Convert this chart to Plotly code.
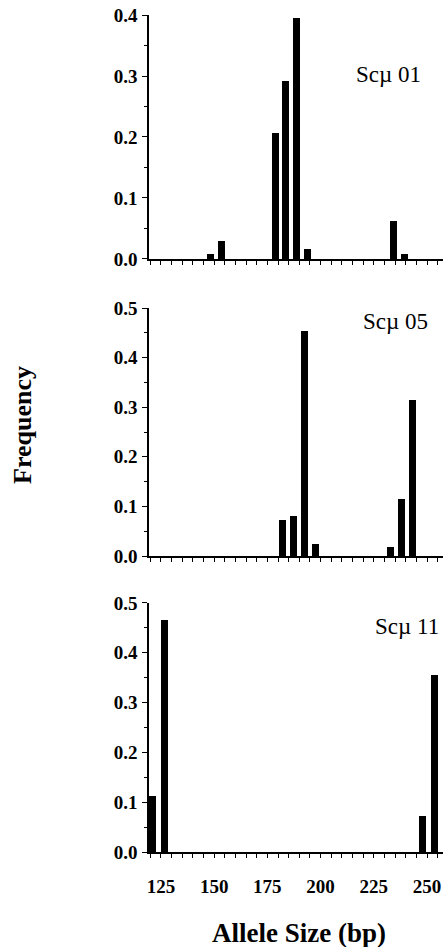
import plotly.graph_objects as go

# Data
sizes_01 = [148.5, 153.5, 178.6, 183.7, 188.8, 193.9, 234.2, 239.3]
freq_01 = [0.008, 0.030, 0.207, 0.291, 0.395, 0.016, 0.063, 0.008]

sizes_05 = [182.2, 187.4, 192.5, 197.7, 233.0, 238.1, 243.3]
freq_05 = [0.072, 0.081, 0.454, 0.025, 0.018, 0.114, 0.315]

sizes_11 = [121.1, 126.9, 248.0, 253.3]
freq_11 = [0.113, 0.465, 0.073, 0.356]

panel_names = ["Scµ 01", "Scµ 05", "Scµ 11"]
x_tick_vals = [125, 150, 175, 200, 225, 250]
x_tick_text = ["125", "150", "175", "200", "225", "250"]

W, H = 443, 947
fig = go.Figure()

series = [(sizes_01, freq_01), (sizes_05, freq_05), (sizes_11, freq_11)]
for i, (xs, ys) in enumerate(series):
    sfx = "" if i == 0 else str(i + 1)
    fig.add_trace(go.Bar(x=xs, y=ys, width=3.3, marker=dict(color="black", line=dict(width=0)),
                         xaxis="x" + sfx, yaxis="y" + sfx, showlegend=False))

tickfont = dict(family="Liberation Serif", size=19, color="black", weight="bold")
serif_b = "Liberation Serif"

def xaxis(show_labels, anchor):
    return dict(range=[119.4, 257.5], showline=True, linecolor="black", linewidth=1.5,
                ticks="outside", ticklen=4, tickwidth=1.2, tickcolor="black",
                tickvals=x_tick_vals, ticktext=x_tick_text if show_labels else None,
                showticklabels=show_labels, tickfont=tickfont, ticklabelstandoff=12,
                minor=dict(dtick=5, tick0=0, ticks="outside", ticklen=4, tickwidth=1.2, tickcolor="black"),
                showgrid=False, zeroline=False, anchor=anchor, fixedrange=True)

def yaxis(rng, dom, anchor):
    return dict(range=rng, domain=dom, showline=True, linecolor="black", linewidth=1.5,
                ticks="outside", ticklen=5, tickwidth=1.2, tickcolor="black",
                tick0=0, dtick=0.1, tickformat=".1f", tickfont=tickfont,
                minor=dict(dtick=0.05, ticks="outside", ticklen=3, tickwidth=1.2, tickcolor="black"),
                showgrid=False, zeroline=False, anchor=anchor, ticklabelstandoff=1, fixedrange=True)

fig.update_layout(
    width=W, height=H,
    margin=dict(l=149, r=0, t=15, b=95),
    paper_bgcolor="white", plot_bgcolor="white",
    bargap=0,
    xaxis=xaxis(False, "y"),
    xaxis2=xaxis(False, "y2"),
    xaxis3=xaxis(True, "y3"),
    yaxis=yaxis([0, 0.4], [0.7085, 1.0], "x"),
    yaxis2=yaxis([0, 0.5], [0.3536, 0.6499], "x2"),
    yaxis3=yaxis([0, 0.5], [0.0, 0.2975], "x3"),
    font=dict(family=serif_b, color="black"),
)

label_pos = [(231.7, 0.302, "x", "y"), (235.2, 0.472, "x2", "y2"), (240.8, 0.452, "x3", "y3")]
for name, (lx, ly, xr, yr) in zip(panel_names, label_pos):
    fig.add_annotation(x=lx, y=ly, xref=xr, yref=yr, text=name, showarrow=False,
                       font=dict(family="Liberation Serif", size=23, color="black"),
                       xanchor="center", yanchor="middle")

fig.add_annotation(x=(22 - 149) / 294, y=(852 - 425) / 837, xref="paper", yref="paper",
                   text="<b>Frequency</b>", textangle=-90, showarrow=False,
                   font=dict(family=serif_b, size=26, color="black"),
                   xanchor="center", yanchor="middle")
fig.add_annotation(x=(299 - 149) / 294, y=(852 - 933) / 837, xref="paper", yref="paper",
                   text="<b>Allele Size (bp)</b>", showarrow=False,
                   font=dict(family=serif_b, size=27, color="black"),
                   xanchor="center", yanchor="middle")

fig.write_html("out.html", config={"displayModeBar": False},
               post_script="document.body.style.margin='0';document.body.style.overflow='hidden';")
